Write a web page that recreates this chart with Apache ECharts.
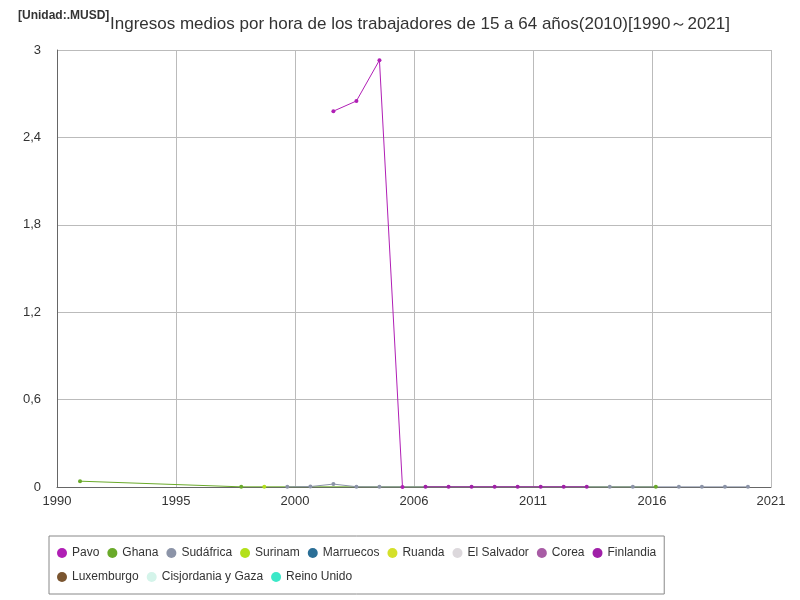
<!DOCTYPE html><html><head><meta charset="utf-8"><script src="https://cdn.jsdelivr.net/npm/echarts@6/dist/echarts.min.js"></script></head><body style="margin:0"><div id="c" style="width:800px;height:600px"></div><script>
const names=['Pavo','Ghana','Sudáfrica','Surinam','Marruecos','Ruanda','El Salvador','Corea','Finlandia','Luxemburgo','Cisjordania y Gaza','Reino Unido'];
const colors=['#b01fb5','#6aaa2a','#8c94a8','#b3e01a','#2a6e96','#d4e02a','#dcd8dc','#a85ca5','#a020a8','#7a5530','#d4f4ea','#3ce8c8'];
const pavo=[[2002,2.58],[2003,2.65],[2004,2.93],[2005,0]];
const ghana=[[1991,0.04],[1998,0.001],[2016,0.001]];
const sudafrica=[[2000,0.001],[2001,0.003],[2002,0.02],[2003,0.002],[2004,0.001],[2014,0.001],[2015,0.001],[2017,0.001],[2018,0.001],[2019,0.001],[2020,0.001]];
const surinam=[[1999,0.001]];
const finlandia=[[2006,0.001],[2007,0.001],[2008,0.001],[2009,0.001],[2010,0.001],[2011,0.001],[2012,0.001],[2013,0.001]];
const dataMap={Pavo:pavo,Ghana:ghana,'Sudáfrica':sudafrica,Surinam:surinam,Finlandia:finlandia};
const series=names.map((n,i)=>({name:n,type:'line',data:dataMap[n]||[],symbol:'circle',symbolSize:4,itemStyle:{color:colors[i]},lineStyle:{width:1,color:colors[i]}}));
const ch=echarts.init(document.getElementById('c'));
ch.setOption({animation:false,
title:{text:'Ingresos medios por hora de los trabajadores de 15 a 64 años(2010)[1990～2021]',left:415,top:11,textAlign:'center',textStyle:{fontSize:17,fontWeight:'normal',color:'#333'}},
graphic:[{type:'text',left:18,top:10,style:{text:'[Unidad:.MUSD]',font:'bold 12px sans-serif',fill:'#333'}}],
grid:{left:57,right:29,top:50,bottom:113},
xAxis:{type:'value',min:1990,max:2021,interval:31/6,axisLabel:{formatter:v=>Math.round(v),fontSize:13,color:'#333'},splitLine:{lineStyle:{color:'#bbb'}},axisLine:{lineStyle:{color:'#666'}},axisTick:{show:false}},
yAxis:{type:'value',min:0,max:3,interval:0.6,axisLabel:{formatter:v=>String(Math.round(v*10)/10).replace('.',','),fontSize:13,color:'#333',margin:16},splitLine:{lineStyle:{color:'#bbb'}},axisLine:{show:true,lineStyle:{color:'#666'}},axisTick:{show:false}},
legend:{left:49,top:536,width:680,itemWidth:10,itemHeight:10,icon:'circle',itemGap:8,borderColor:'#888',borderWidth:1,padding:[9,8,9,8],textStyle:{fontSize:12,color:'#333',lineHeight:16}},
series});
</script></body></html>
